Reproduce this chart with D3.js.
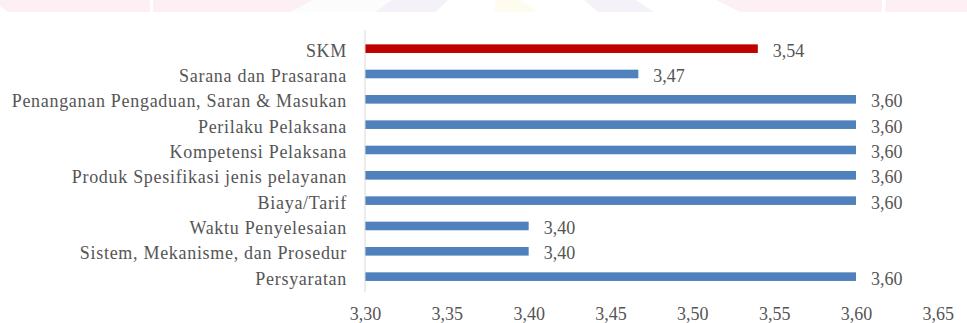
<!DOCTYPE html>
<html>
<head>
<meta charset="utf-8">
<script src="https://cdn.jsdelivr.net/npm/d3@7"></script>
<style>
  html, body { margin: 0; padding: 0; background: #fff; }
  svg { display: block; }
</style>
</head>
<body>
<div id="chart"></div>
<script>
// Categories from top to bottom, with their scores
const categories = [
  "SKM",
  "Sarana dan Prasarana",
  "Penanganan Pengaduan, Saran & Masukan",
  "Perilaku Pelaksana",
  "Kompetensi Pelaksana",
  "Produk Spesifikasi jenis pelayanan",
  "Biaya/Tarif",
  "Waktu Penyelesaian",
  "Sistem, Mekanisme, dan Prosedur",
  "Persyaratan"
];
const values = [3.54, 3.467, 3.60, 3.60, 3.60, 3.60, 3.60, 3.40, 3.40, 3.60];
const tickValues = [3.30, 3.35, 3.40, 3.45, 3.50, 3.55, 3.60, 3.65];

const width = 967;
const height = 323;

const svg = d3.select("#chart").append("svg")
    .attr("width", width)
    .attr("height", height);

// faint watermark strip along the top edge
const strip = [
  {pts: [[0, 0], [150, 0], [150, 12], [8, 12], [0, 6]], fill: "#fdf0f4"},
  {pts: [[153, 0], [313, 0], [291, 12], [153, 12]], fill: "#fdf0f4"},
  {pts: [[313, 0], [398, 0], [376, 12], [291, 12]], fill: "#fcfcfd"},
  {pts: [[392, 0], [448, 0], [436, 12], [376, 12]], fill: "#f4f2f8"},
  {pts: [[496, 0], [520, 0], [538, 12], [494, 12]], fill: "#fefbef"},
  {pts: [[584, 0], [636, 0], [654, 12], [598, 12]], fill: "#f4f2f8"},
  {pts: [[716, 0], [882, 0], [882, 12], [740, 12]], fill: "#fdf0f4"},
  {pts: [[886, 0], [967, 0], [967, 12], [885, 12]], fill: "#fdf0f4"}
];
svg.append("g").selectAll("polygon")
  .data(strip)
  .join("polygon")
    .attr("points", d => d.pts.map(p => p.join(",")).join(" "))
    .attr("fill", d => d.fill);

const x = d3.scaleLinear()
    .domain([3.30, 3.60])
    .range([365, 856]);

const y = d3.scaleBand()
    .domain(categories)
    .range([36, 289.3])
    .paddingInner(0.66)
    .paddingOuter(0.33);

const fmt = v => d3.format(".2f")(v).replace(".", ",");
const font = '"Liberation Serif"';
const textColor = "#555555";

// bars
svg.append("g").selectAll("rect")
  .data(categories)
  .join("rect")
    .attr("x", x(3.30))
    .attr("y", d => y(d))
    .attr("width", (d, i) => x(values[i]) - x(3.30))
    .attr("height", y.bandwidth())
    .attr("fill", (d, i) => i === 0 ? "#c00000" : "#4f81bd");

// value labels
svg.append("g").selectAll("text")
  .data(categories)
  .join("text")
    .attr("x", (d, i) => x(values[i]) + 15)
    .attr("y", d => y(d) + y.bandwidth() / 2 + 8)
    .style("font-family", font)
    .style("font-size", "18px")
    .style("fill", textColor)
    .text((d, i) => fmt(values[i]));

// category axis
const yAxis = svg.append("g")
    .attr("transform", `translate(${x(3.30)},0)`)
    .call(d3.axisLeft(y).tickSize(0).tickPadding(18));
yAxis.attr("font-family", null).attr("font-size", null);
yAxis.select(".domain")
    .attr("stroke", "#d9d9d9")
    .attr("d", "M0,30V292");
yAxis.selectAll("text")
    .attr("dy", null)
    .attr("y", 8)
    .style("font-family", font)
    .style("font-size", "18px")
    .style("letter-spacing", "0.7px")
    .style("fill", textColor);

// value axis (labels only)
const xAxis = svg.append("g")
    .attr("transform", "translate(0,292)")
    .call(d3.axisBottom(x).tickValues(tickValues).tickFormat(fmt).tickSize(0));
xAxis.attr("font-family", null).attr("font-size", null);
xAxis.select(".domain").remove();
xAxis.selectAll("text")
    .attr("dy", null)
    .attr("y", 27.5)
    .style("font-family", font)
    .style("font-size", "18px")
    .style("fill", textColor);
</script>
</body>
</html>
